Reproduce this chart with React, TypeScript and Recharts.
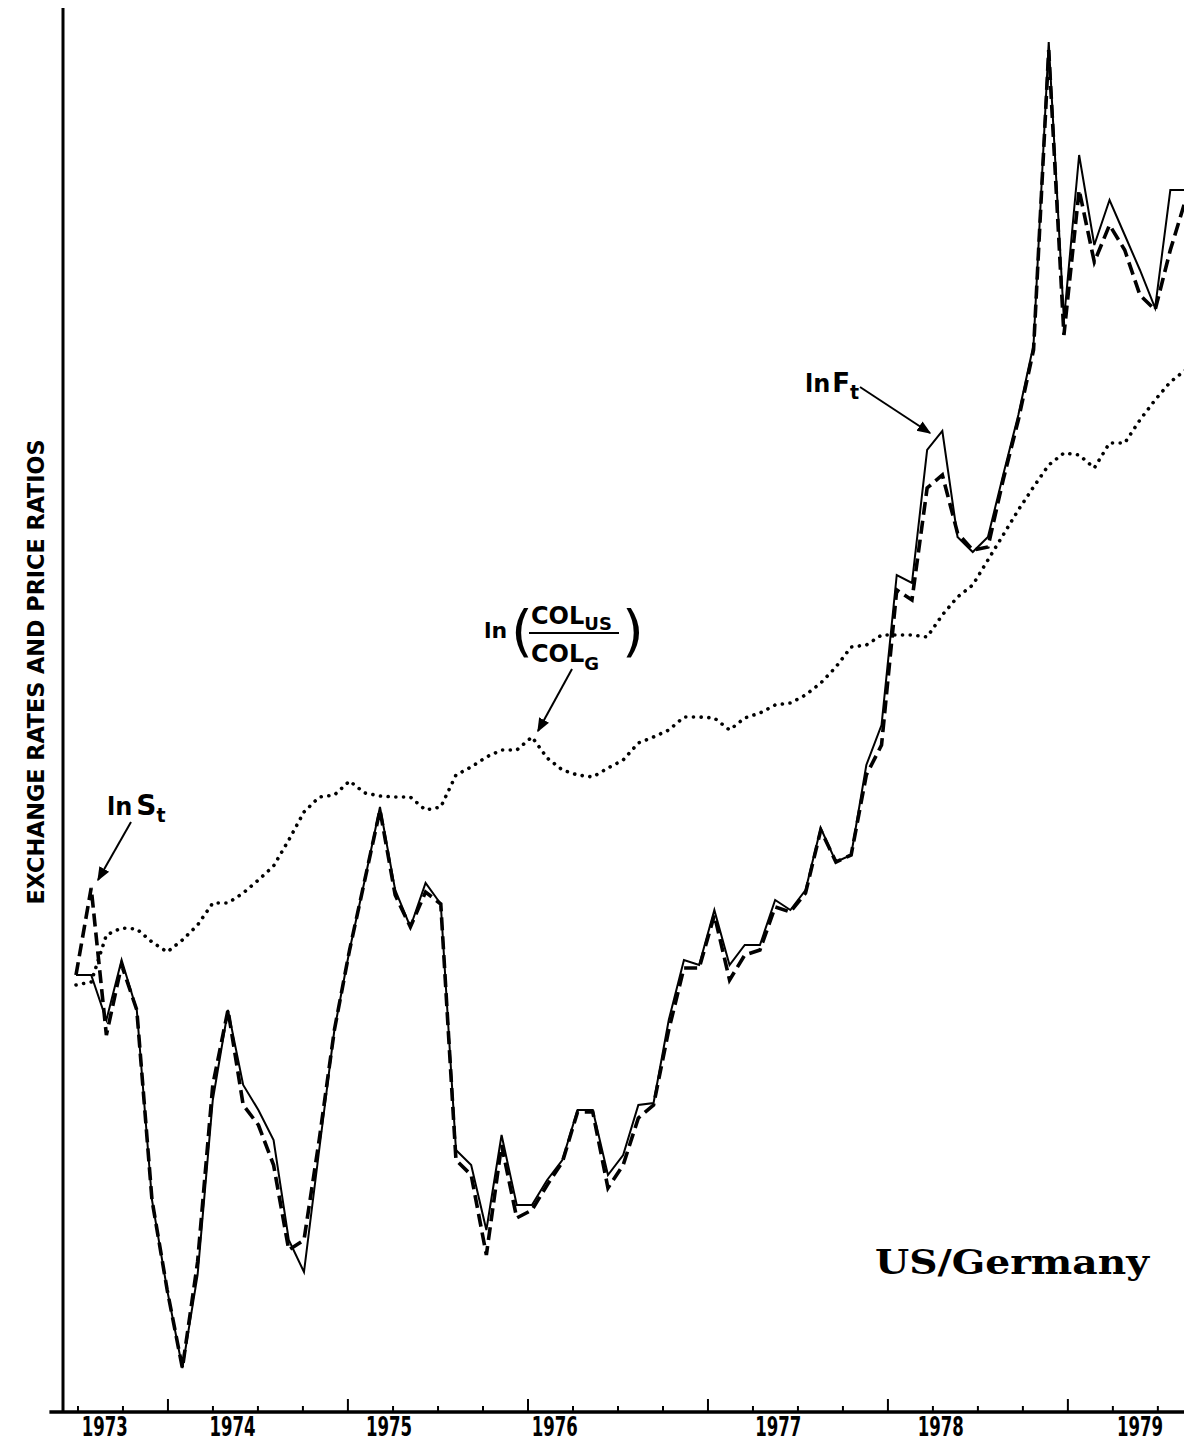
import React from 'react'
import { LineChart, Line, XAxis, YAxis, ReferenceLine } from 'recharts'

// one value per month, index 0 = mid 1973; units are relative log levels
const LN_F = [
  43.7, 43.7, 39.2, 45.2, 40.2, 21.2, 12.2, 4.4, 13.7, 31.2,
  40.2, 32.7, 30.2, 27.2, 17.2, 14.0, 26.2, 38.2, 46.2, 53.2,
  60.5, 52.2, 48.5, 52.9, 50.8, 26.2, 24.7, 18.2, 27.7, 20.7,
  20.7, 23.2, 25.2, 30.2, 30.2, 23.7, 25.7, 30.7, 30.9, 39.2,
  45.2, 44.7, 50.2, 44.7, 46.7, 46.7, 51.2, 50.2, 52.2, 58.4,
  55.0, 55.7, 64.7, 68.7, 83.7, 82.9, 96.2, 98.1, 87.5, 86.0,
  87.5, 93.7, 99.7, 106.7, 137.0, 109.2, 125.7, 116.7, 121.2, 117.7,
  114.2, 110.4, 122.2, 122.2,
]

const LN_S = [
  43.7, 52.4, 37.7, 44.7, 40.2, 21.2, 12.2, 4.4, 15.0, 32.7,
  40.2, 30.7, 28.7, 24.7, 16.2, 17.2, 27.2, 38.2, 46.2, 53.2,
  60.2, 51.7, 48.5, 52.0, 50.8, 25.2, 23.7, 15.7, 26.7, 19.4,
  20.2, 22.7, 25.0, 30.0, 30.0, 22.4, 24.7, 29.4, 30.7, 38.2,
  44.4, 44.4, 49.7, 43.2, 45.7, 46.2, 50.5, 50.0, 51.9, 58.2,
  55.0, 55.7, 63.7, 66.7, 82.2, 81.2, 92.4, 93.7, 87.9, 86.2,
  86.5, 93.2, 99.2, 106.2, 136.2, 107.7, 122.2, 115.0, 118.7, 116.2,
  111.7, 110.2, 116.2, 121.2,
]

const LN_COL = [
  42.7, 43.0, 47.7, 48.4, 48.3, 47.0, 46.0, 47.2, 48.7, 50.9,
  50.9, 51.9, 53.2, 54.6, 57.2, 60.0, 61.5, 61.7, 63.1, 61.9,
  61.6, 61.5, 61.5, 60.2, 60.5, 63.7, 64.5, 65.5, 66.2, 66.2,
  67.5, 65.4, 64.2, 63.7, 63.5, 64.4, 65.2, 66.9, 67.5, 68.2,
  69.5, 69.5, 69.4, 68.2, 69.4, 69.9, 70.7, 70.9, 71.7, 72.9,
  74.5, 76.5, 76.7, 77.7, 77.7, 77.7, 77.5, 79.7, 81.5, 82.7,
  85.2, 87.7, 90.2, 92.5, 94.7, 95.9, 95.7, 94.4, 96.9, 96.9,
  99.2, 101.2, 103.0, 104.2,
]

// quarterly tick marks along the time axis (every fourth one is a long one)
const QUARTER_TICKS = [
  0.13, 3.09, 6.05, 9.01, 11.97, 14.93, 17.89, 20.86, 23.82, 26.78,
  29.74, 32.7, 35.66, 38.62, 41.58, 44.54, 47.5, 50.46, 53.42, 56.38,
  59.34, 62.3, 65.26, 68.22, 71.18,
]
const YEAR_TICKS = [1.9, 10.3, 20.6, 31.5, 46.2, 56.9, 70.0]
const YEAR_LABELS = ['1973', '1974', '1975', '1976', '1977', '1978', '1979']

const data = LN_F.map((f, i) => ({ m: i, lnF: f, lnS: LN_S[i], lnCol: LN_COL[i] }))

const X_DOMAIN: [number, number] = [-0.855, 72.9]
const condensed = "'DejaVu Sans Condensed', 'Liberation Sans Narrow', 'DejaVu Sans', sans-serif"
const labelFont = "'DejaVu Sans', 'Noto Sans', sans-serif"

function QuarterTick(props: any) {
  const { x, y, index } = props
  const major = index % 4 === 2
  return <line x1={x} x2={x} y1={y} y2={y - (major ? 13 : 6)} stroke="#000" strokeWidth={2} />
}

function YearTick(props: any) {
  const { x, y, index } = props
  return (
    <text
      x={x}
      y={y + 23}
      textAnchor="middle"
      fontFamily={condensed}
      fontWeight="bold"
      fontSize={27}
      textLength={46}
      lengthAdjust="spacingAndGlyphs"
      fill="#000"
    >
      {YEAR_LABELS[index]}
    </text>
  )
}

function YLabel(props: any) {
  const { viewBox } = props
  const cx = viewBox.x + 36
  const cy = 672
  return (
    <text
      x={cx}
      y={cy}
      transform={`rotate(-90 ${cx} ${cy})`}
      textAnchor="middle"
      dominantBaseline="central"
      fontFamily={condensed}
      fontWeight={600}
      fontSize={23}
      textLength={465}
      lengthAdjust="spacingAndGlyphs"
      fill="#000"
    >
      EXCHANGE RATES AND PRICE RATIOS
    </text>
  )
}

function Notes() {
  return (
    <svg
      width={1184}
      height={1442}
      style={{ position: 'absolute', left: 0, top: 0, pointerEvents: 'none' }}
    >
      <defs>
        <marker id="head" viewBox="0 0 10 10" refX="9" refY="5" markerWidth="7" markerHeight="7" orient="auto">
          <path d="M0,1 L10,5 L0,9 z" fill="#000" />
        </marker>
      </defs>
      <g fontFamily={labelFont} fontWeight="bold" fill="#000">
        <text x={107} y={815} fontSize={24}>
          ln<tspan dx={4} fontSize={28}>S</tspan>
          <tspan fontSize={19} dy={7}>t</tspan>
        </text>
        <line x1={131} y1={822} x2={98} y2={880} stroke="#000" strokeWidth={2} markerEnd="url(#head)" />

        <text x={805} y={392} fontSize={24}>
          ln<tspan dx={2} fontSize={26}>F</tspan>
          <tspan fontSize={19} dy={7}>t</tspan>
        </text>
        <line x1={860} y1={387} x2={930} y2={433} stroke="#000" strokeWidth={2} markerEnd="url(#head)" />

        <text x={484} y={638} fontSize={22}>ln</text>
        <text x={511} y={650} fontSize={56} fontWeight="normal">(</text>
        <text x={622} y={650} fontSize={56} fontWeight="normal">)</text>
        <text x={531} y={624} fontSize={24}>
          COL<tspan fontSize={18} dy={6}>US</tspan>
        </text>
        <line x1={529} y1={633} x2={619} y2={633} stroke="#000" strokeWidth={2} />
        <text x={531} y={662} fontSize={24}>
          COL<tspan fontSize={18} dy={8}>G</tspan>
        </text>
        <line x1={572} y1={669} x2={538} y2={731} stroke="#000" strokeWidth={2} markerEnd="url(#head)" />
      </g>
      <text
        x={875}
        y={1274}
        fontFamily="'DejaVu Serif', 'Liberation Serif', serif"
        fontWeight="bold"
        fontSize={34}
        textLength={274}
        lengthAdjust="spacingAndGlyphs"
        fill="#000"
      >
        US/Germany
      </text>
    </svg>
  )
}

export default function App() {
  return (
    <div style={{ position: 'absolute', left: 0, top: 0, width: 1184, height: 1442, background: '#fff' }}>
      <LineChart width={1184} height={1442} data={data} margin={{ top: 8, right: 0, bottom: 0, left: 0 }}>
        <XAxis
          xAxisId="q"
          dataKey="m"
          type="number"
          domain={X_DOMAIN}
          allowDataOverflow
          ticks={QUARTER_TICKS}
          interval={0}
          tickLine={false}
          tickSize={0}
          tickMargin={0}
          tick={<QuarterTick />}
          axisLine={{ stroke: '#000', strokeWidth: 3.5 }}
          height={1}
        />
        <XAxis
          xAxisId="yr"
          dataKey="m"
          type="number"
          domain={X_DOMAIN}
          allowDataOverflow
          ticks={YEAR_TICKS}
          interval={0}
          tickLine={false}
          tickSize={0}
          tickMargin={0}
          tick={<YearTick />}
          axisLine={false}
          height={29}
        />
        <YAxis
          type="number"
          domain={[0, 140.4]}
          allowDataOverflow
          width={63}
          tick={false}
          tickLine={false}
          axisLine={{ stroke: '#000', strokeWidth: 3 }}
          label={<YLabel />}
        />
        <ReferenceLine
          xAxisId="q"
          segment={[{ x: -1.75, y: 0 }, { x: -0.855, y: 0 }]}
          stroke="#000"
          strokeWidth={3.5}
          ifOverflow="visible"
        />
        <Line
          xAxisId="q"
          type="linear"
          dataKey="lnCol"
          stroke="#000"
          strokeWidth={3.6}
          strokeDasharray="0.1 7.6"
          strokeLinecap="round"
          dot={false}
          isAnimationActive={false}
        />
        <Line
          xAxisId="q"
          type="linear"
          dataKey="lnF"
          stroke="#000"
          strokeWidth={2}
          dot={false}
          isAnimationActive={false}
        />
        <Line
          xAxisId="q"
          type="linear"
          dataKey="lnS"
          stroke="#000"
          strokeWidth={3.6}
          strokeDasharray="13 6"
          dot={false}
          isAnimationActive={false}
        />
      </LineChart>
      <Notes />
    </div>
  )
}
